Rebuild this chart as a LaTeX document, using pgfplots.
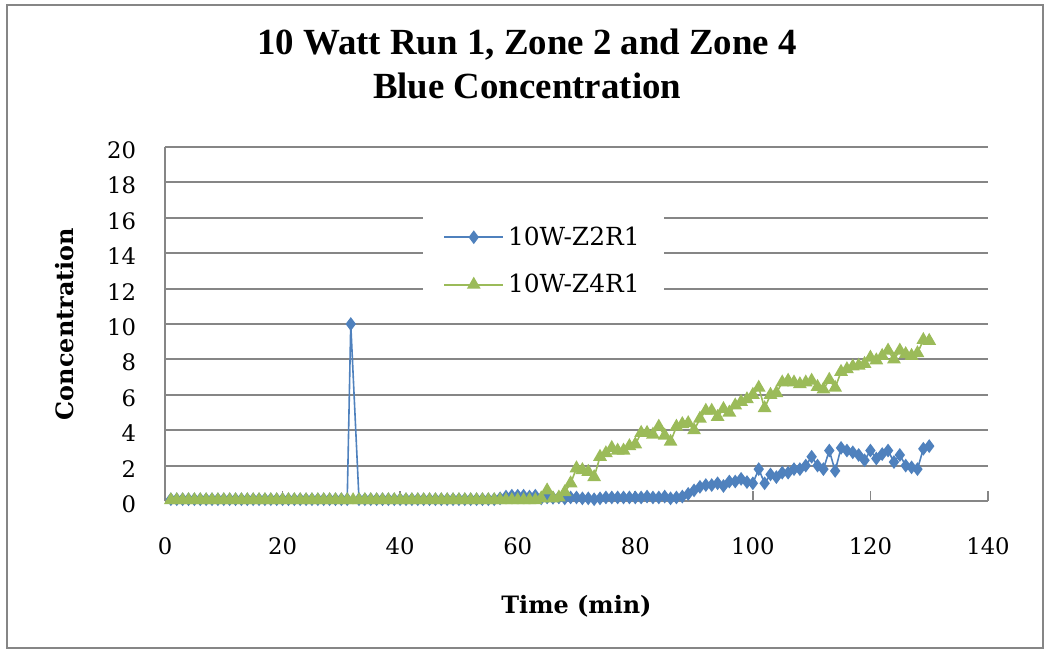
\documentclass[border=0pt]{standalone}
\usepackage{pgfplots}
\pgfplotsset{compat=1.18}
\usepackage{pgfplotstable}
\usepackage{fontspec}
\setmainfont{DejaVu Serif}
\newfontfamily\titlefont{Liberation Serif}

\definecolor{zblue}{RGB}{79,129,189}
\definecolor{zgreen}{RGB}{155,187,89}
\definecolor{gridgray}{RGB}{134,134,134}

% Zone 2, run 1 (blue concentration)
\pgfplotstableread{
t c
1 0.1
2 0.1
3 0.1
4 0.1
5 0.1
6 0.1
7 0.1
8 0.1
9 0.1
10 0.1
11 0.1
12 0.1
13 0.1
14 0.1
15 0.1
16 0.1
17 0.1
18 0.1
19 0.1
20 0.1
21 0.1
22 0.1
23 0.1
24 0.1
25 0.1
26 0.1
27 0.1
28 0.1
29 0.1
30 0.1
31 0.1
31.6 10
33 0.1
34 0.1
35 0.1
36 0.1
37 0.1
38 0.1
39 0.1
40 0.1
41 0.1
42 0.1
43 0.1
44 0.1
45 0.1
46 0.1
47 0.1
48 0.1
49 0.1
50 0.1
51 0.1
52 0.1
53 0.1
54 0.1
55 0.1
56 0.1
57 0.15
58 0.25
59 0.3
60 0.3
61 0.3
62 0.25
63 0.3
64 0.15
65 0.2
66 0.18
67 0.2
68 0.15
69 0.2
70 0.2
71 0.15
72 0.15
73 0.1
74 0.15
75 0.2
76 0.2
77 0.2
78 0.2
79 0.2
80 0.2
81 0.2
82 0.25
83 0.2
84 0.2
85 0.25
86 0.15
87 0.2
88 0.25
89 0.4
90 0.6
91 0.8
92 0.9
93 0.9
94 1.0
95 0.85
96 1.1
97 1.1
98 1.25
99 1.07
100 1.0
101 1.8
102 1.0
103 1.5
104 1.35
105 1.6
106 1.6
107 1.8
108 1.8
109 2.0
110 2.5
111 2.0
112 1.8
113 2.85
114 1.7
115 3.0
116 2.85
117 2.75
118 2.6
119 2.3
120 2.85
121 2.4
122 2.65
123 2.85
124 2.2
125 2.6
126 2.0
127 1.9
128 1.8
129 2.95
130 3.1
}\zonetwo

% Zone 4, run 1 (blue concentration)
\pgfplotstableread{
t c
1 0.05
2 0.05
3 0.05
4 0.05
5 0.05
6 0.05
7 0.05
8 0.05
9 0.05
10 0.05
11 0.05
12 0.05
13 0.05
14 0.05
15 0.05
16 0.05
17 0.05
18 0.05
19 0.05
20 0.05
21 0.05
22 0.05
23 0.05
24 0.05
25 0.05
26 0.05
27 0.05
28 0.05
29 0.05
30 0.05
31 0.05
32 0.05
33 0.05
34 0.05
35 0.05
36 0.05
37 0.05
38 0.05
39 0.05
40 0.05
41 0.05
42 0.05
43 0.05
44 0.05
45 0.05
46 0.05
47 0.05
48 0.05
49 0.05
50 0.05
51 0.05
52 0.05
53 0.05
54 0.05
55 0.05
56 0.05
57 0.05
58 0.05
59 0.05
60 0.05
61 0.05
62 0.05
63 0.05
64 0.15
65 0.6
66 0.15
67 0.2
68 0.5
69 1.0
70 1.85
71 1.75
72 1.65
73 1.35
74 2.5
75 2.7
76 3.0
77 2.85
78 2.85
79 3.1
80 3.2
81 3.85
82 3.85
83 3.75
84 4.2
85 3.7
86 3.35
87 4.2
88 4.35
89 4.4
90 4.0
91 4.65
92 5.1
93 5.1
94 4.75
95 5.2
96 5.0
97 5.4
98 5.6
99 5.75
100 6.0
101 6.4
102 5.25
103 6.0
104 6.1
105 6.7
106 6.8
107 6.7
108 6.6
109 6.7
110 6.8
111 6.45
112 6.3
113 6.85
114 6.4
115 7.3
116 7.45
117 7.6
118 7.65
119 7.75
120 8.1
121 7.95
122 8.2
123 8.5
124 8.0
125 8.5
126 8.3
127 8.2
128 8.35
129 9.1
130 9.05
}\zonefour

\begin{document}
\begin{tikzpicture}
\begin{axis}[
  scale only axis,
  width=411.5bp, height=177bp,
  xmin=0, xmax=140, ymin=0, ymax=20,
  xtick={0,20,...,140},
  ytick={0,2,...,20},
  axis x line*=bottom,
  axis y line*=left,
  axis line style={gridgray, line width=1bp},
  x axis line style={-},
  y axis line style={-},
  tick align=inside,
  xtick style={gridgray, line width=0.8bp},
  major tick length=5bp,
  ytick style={draw=none},
  ymajorgrids,
  major grid style={gridgray, line width=1bp},
  /pgf/number format/assume math mode=true,
  tick label style={font=\fontsize{11.4}{13}\selectfont, text=black},
  xticklabel style={yshift=-15bp},
  yticklabel style={xshift=-11bp, yshift=-1.5bp},
  xlabel={Time (min)},
  ylabel={Concentration},
  xlabel style={at={(axis description cs:0.5,-0.2966)}, anchor=center, font=\bfseries\fontsize{12}{14}\selectfont},
  ylabel style={at={(axis description cs:-0.1215,0.5)}, anchor=center, font=\bfseries\fontsize{12}{14}\selectfont},
  title={10 Watt Run 1, Zone 2 and Zone 4\\[2bp]Blue Concentration},
  title style={at={(axis description cs:0.44,1.2005)}, anchor=center, align=center,
    font=\titlefont\bfseries\fontsize{18.5}{20}\selectfont},
  legend style={at={(axis description cs:0.46,0.678)}, anchor=center,
    draw=none, fill=white, font=\fontsize{12.5}{14}\selectfont,
    row sep=9bp, inner xsep=10bp, inner ysep=4bp},
  legend cell align=left,
  legend image code/.code={
    \draw[mark repeat=2, mark phase=2] plot coordinates {(0bp,0bp) (14.75bp,0bp) (29.5bp,0bp)};
  },
]
\addplot[color=zblue, line width=0.8bp, mark=diamond*, mark size=2.8bp,
  mark options={fill=zblue, draw=zblue}] table[x=t, y=c] {\zonetwo};
\addlegendentry{10W-Z2R1}
\addplot[color=zgreen, line width=0.8bp, mark=triangle*, mark size=3.2bp,
  mark options={fill=zgreen, draw=zgreen}] table[x=t, y=c] {\zonefour};
\addlegendentry{10W-Z4R1}
\end{axis}
% chart frame
\draw[gridgray, line width=1bp] (-79bp,-73.5bp) rectangle (439bp,248bp);
\pgfresetboundingbox
\path (-82.5bp,-77bp) rectangle (442bp,250.5bp);
\end{tikzpicture}
\end{document}
